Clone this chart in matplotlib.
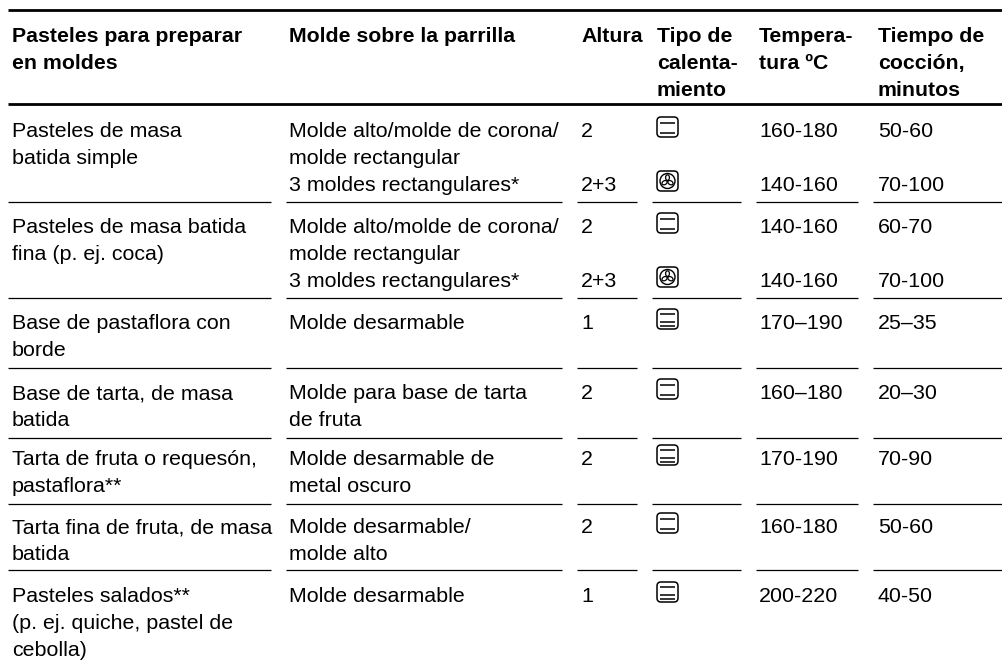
import matplotlib
matplotlib.use("Agg")
import matplotlib.pyplot as plt
from matplotlib.patches import FancyBboxPatch, Circle, Ellipse
from matplotlib.transforms import Affine2D

plt.rcParams['font.family'] = ['Liberation Sans', 'DejaVu Sans']

headers = [
    ["Pasteles para preparar", "en moldes"],
    ["Molde sobre la parrilla"],
    ["Altura"],
    ["Tipo de", "calenta-", "miento"],
    ["Tempera-", "tura ºC"],
    ["Tiempo de", "cocción,", "minutos"],
]
pasteles = [
    ["Pasteles de masa", "batida simple"],
    ["Pasteles de masa batida", "fina (p. ej. coca)"],
    ["Base de pastaflora con", "borde"],
    ["Base de tarta, de masa", "batida"],
    ["Tarta de fruta o requesón,", "pastaflora**"],
    ["Tarta fina de fruta, de masa", "batida"],
    ["Pasteles salados**", "(p. ej. quiche, pastel de", "cebolla)"],
]
moldes = [
    ["Molde alto/molde de corona/", "molde rectangular", "3 moldes rectangulares*"],
    ["Molde alto/molde de corona/", "molde rectangular", "3 moldes rectangulares*"],
    ["Molde desarmable"],
    ["Molde para base de tarta", "de fruta"],
    ["Molde desarmable de", "metal oscuro"],
    ["Molde desarmable/", "molde alto"],
    ["Molde desarmable"],
]
alturas = [["2", "", "2+3"], ["2", "", "2+3"], ["1"], ["2"], ["2"], ["2"], ["1"]]
calentamiento = [["ab", "", "fan"], ["ab", "", "fan"], ["abg"], ["ab"], ["abg"], ["ab"], ["abg"]]
temperaturas = [["160-180", "", "140-160"], ["140-160", "", "140-160"], ["170–190"],
                ["160–180"], ["170-190"], ["160-180"], ["200-220"]]
tiempos = [["50-60", "", "70-100"], ["60-70", "", "70-100"], ["25–35"],
           ["20–30"], ["70-90"], ["50-60"], ["40-50"]]

# layout (pixels)
W, H = 1002, 662
col_x = [12, 289, 581, 657, 759, 878]
rule_spans = [(8, 271), (286, 562), (577, 637), (652, 741), (756, 858), (873, 1002)]
row_base = [137, 233, 329, 399, 465, 533, 602]
row_rule = [202, 298, 368, 438, 504, 570]
header_base = 42
LINE = 27
BODY = 15.4
HEAD = 15.3

fig = plt.figure(figsize=(W / 100, H / 100), dpi=100)
ax = fig.add_axes([0, 0, 1, 1])
ax.set_xlim(0, W)
ax.set_ylim(H, 0)
ax.axis("off")


def lines(x, base, items, **kw):
    for i, s in enumerate(items):
        if s:
            ax.text(x, base + i * LINE, s, va="baseline", ha="left", color="black", **kw)


def icon(x, base, kind):
    y0, w, h = base - 20, 21, 20
    ax.add_patch(FancyBboxPatch((x + 2, y0 + 2), w - 4, h - 4,
                                boxstyle="round,pad=2,rounding_size=4",
                                fc="white", ec="black", lw=1.1))
    offsets = {"ab": (6, 16), "abg": (5, 13, 17)}.get(kind, ())
    for off in offsets:
        ax.plot([x + 3, x + w - 3], [y0 + off, y0 + off], color="black", lw=1.1,
                solid_capstyle="butt")
    if kind == "fan":
        cx, cy = x + w / 2, y0 + h / 2
        ax.add_patch(Circle((cx, cy), 7.5, fc="none", ec="black", lw=1.0))
        for a in (0, 120, 240):
            e = Ellipse((0, -3.4), 3.8, 5.6, fc="none", ec="black", lw=0.9)
            e.set_transform(Affine2D().rotate_deg(a).translate(cx, cy) + ax.transData)
            ax.add_patch(e)


for x, h in zip(col_x, headers):
    lines(x, header_base, h, fontsize=HEAD, fontweight="bold")

for r, base in enumerate(row_base):
    lines(col_x[0], base, pasteles[r], fontsize=BODY)
    lines(col_x[1], base, moldes[r], fontsize=BODY)
    lines(col_x[2], base, alturas[r], fontsize=BODY)
    lines(col_x[4], base, temperaturas[r], fontsize=BODY)
    lines(col_x[5], base, tiempos[r], fontsize=BODY)
    for i, k in enumerate(calentamiento[r]):
        if k:
            icon(col_x[3], base + i * LINE, k)

ax.plot([8, 1002], [10, 10], color="black", lw=2.0, solid_capstyle="butt")
ax.plot([8, 1002], [104, 104], color="black", lw=2.0, solid_capstyle="butt")
for y in row_rule:
    for a, b in rule_spans:
        ax.plot([a, b], [y, y], color="black", lw=0.9, solid_capstyle="butt")

fig.savefig("out.png", dpi=100, facecolor="white")
